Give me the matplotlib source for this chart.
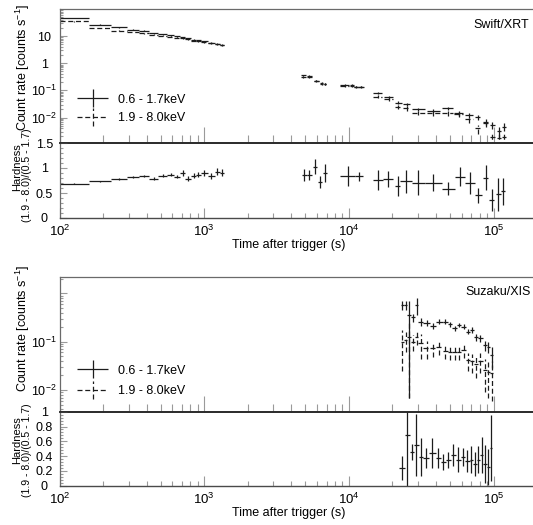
import numpy as np
import matplotlib
matplotlib.use('Agg')
import matplotlib.pyplot as plt
from matplotlib.ticker import FixedLocator, FixedFormatter, NullFormatter, LogLocator, MultipleLocator
from matplotlib.container import ErrorbarContainer
from matplotlib.legend_handler import HandlerErrorbar

plt.rcParams['font.family'] = ['Liberation Sans', 'DejaVu Sans']
plt.rcParams['mathtext.fontset'] = 'custom'
plt.rcParams['mathtext.rm'] = 'Liberation Sans'
plt.rcParams['mathtext.it'] = 'Liberation Sans:italic'
plt.rcParams['mathtext.bf'] = 'Liberation Sans:bold'

# ---------------- data ----------------
band_labels = ['0.6 - 1.7keV', '1.9 - 8.0keV']

# Swift/XRT early light curve (bin edges in s)
xrt1_edges = [100, 161, 228, 293, 355, 417, 483, 552, 622, 682, 742, 815, 878, 948, 1060, 1179, 1276, 1368]
xrt1_soft = [47, 26.7, 21, 17.4, 16, 13.1, 12.1, 10.7, 9.8, 9.0, 8.3, 7.4, 7.0, 6.4, 5.7, 5.3, 4.8]
xrt1_soft_err = [0.8, 0.5, 0.45, 0.4, 0.35, 0.3, 0.3, 0.28, 0.26, 0.25, 0.24, 0.22, 0.22, 0.2, 0.2, 0.19, 0.18]
xrt1_hard = [35, 20, 16, 14, 12.6, 11.4, 10.5, 9.6, 8.8, 8.2, 7.6, 6.9, 6.5, 6.0, 5.4, 5.0, 4.6]
xrt1_hard_err = [0.7, 0.45, 0.4, 0.35, 0.32, 0.3, 0.28, 0.26, 0.25, 0.24, 0.23, 0.21, 0.21, 0.2, 0.19, 0.18, 0.17]
xrt1_hr = [0.69, 0.74, 0.78, 0.83, 0.85, 0.79, 0.85, 0.87, 0.83, 0.91, 0.79, 0.85, 0.87, 0.91, 0.85, 0.93, 0.91]
xrt1_hr_err = [0.01, 0.01, 0.015, 0.02, 0.02, 0.025, 0.03, 0.03, 0.035, 0.06, 0.045, 0.05, 0.05, 0.06, 0.06, 0.07, 0.07]

# Swift/XRT late light curve
xrt2_lo = [4650, 5110, 5720, 6300, 6680, 8700, 10100, 10870, 11600, 14750, 17480, 20830, 23770, 27160,
           34500, 43790, 53250, 63450, 74370, 84080, 94430, 105050, 114300]
xrt2_hi = [5050, 5560, 6200, 6640, 6990, 10070, 10800, 11600, 12700, 16850, 20270, 23170, 26440, 33570,
           42620, 52660, 61750, 71720, 80540, 91920, 101760, 113060, 122400]
xrt2_soft = [0.354, 0.335, 0.231, 0.184, 0.174, 0.160, 0.160, 0.139, 0.139, 0.0785, 0.056, 0.0354, 0.0308,
             0.0201, 0.0179, 0.0219, 0.0143, 0.0124, 0.0102, 0.0070, 0.0053, 0.00324, 0.0046]
xrt2_soft_err = [0.02, 0.02, 0.015, 0.012, 0.012, 0.012, 0.012, 0.01, 0.01, 0.007, 0.006, 0.004, 0.004,
                 0.003, 0.0025, 0.003, 0.0025, 0.0025, 0.0022, 0.0018, 0.0016, 0.0013, 0.0015]
xrt2_hard = [0.307, 0.307, 0.219, 0.174, 0.174, 0.147, 0.147, 0.131, 0.131, 0.059, 0.047, 0.0238, 0.0219,
             0.0151, 0.0143, 0.0143, 0.0131, 0.0086, 0.0040, 0.0061, 0.00185, 0.0017, 0.00185]
xrt2_hard_err = [0.02, 0.02, 0.015, 0.012, 0.012, 0.012, 0.012, 0.01, 0.01, 0.007, 0.006, 0.004, 0.004,
                 0.003, 0.0025, 0.0025, 0.0025, 0.0022, 0.0015, 0.0018, 0.0010, 0.0009, 0.0010]
xrt2_hr_lo = [4718, 5109, 5675, 6144, 6655, 8680, 11020, 14750, 17290, 20830, 22550, 27160, 33570, 43790,
              54100, 63450, 74370, 84080, 93390, 103900, 113060]
xrt2_hr_hi = [5109, 5533, 5992, 6486, 7025, 11020, 12580, 17290, 20270, 22550, 27160, 33570, 43790, 54100,
              63450, 74370, 82760, 91920, 100650, 111900, 119900]
xrt2_hr = [0.86, 0.86, 1.03, 0.73, 0.91, 0.84, 0.84, 0.76, 0.79, 0.64, 0.74, 0.71, 0.71, 0.59, 0.83, 0.71,
           0.46, 0.81, 0.36, 0.48, 0.54]
xrt2_hr_err = [0.12, 0.1, 0.15, 0.12, 0.18, 0.2, 0.09, 0.2, 0.16, 0.2, 0.23, 0.25, 0.17, 0.13, 0.19, 0.22,
               0.15, 0.25, 0.22, 0.33, 0.27]

# Suzaku/XIS light curve
xis_edges = [22800, 24070, 25170, 26650, 28500, 30200, 32710, 36180, 40220, 44350, 48020, 51700, 55680,
             59810, 64260, 68720, 73450, 78450, 83820, 89540, 94440, 99670]
xis_soft = [0.575, 0.575, 0.357, 0.32, 0.575, 0.26, 0.247, 0.211, 0.26, 0.26, 0.229, 0.189, 0.222, 0.205,
            0.161, 0.175, 0.123, 0.117, 0.0855, 0.0788, 0.053]
xis_soft_err = [0.12, 0.12, 0.35, 0.06, 0.22, 0.05, 0.035, 0.03, 0.03, 0.03, 0.03, 0.025, 0.025, 0.025,
                0.02, 0.025, 0.02, 0.02, 0.02, 0.02, 0.025]
xis_hard = [0.1, 0.11, 0.127, 0.1, 0.127, 0.093, 0.073, 0.073, 0.079, 0.065, 0.062, 0.062, 0.062, 0.067,
            0.042, 0.039, 0.034, 0.04, 0.026, 0.024, 0.023]
xis_hard_err = [0.075, 0.05, 0.12, 0.035, 0.04, 0.05, 0.03, 0.025, 0.025, 0.022, 0.02, 0.02, 0.02, 0.022,
                0.017, 0.016, 0.016, 0.017, 0.017, 0.017, 0.017]
xis_hr_edges = [22200, 24500, 26240, 28180, 30370, 32700, 35980, 39680, 43170, 46750, 50610, 54800, 59060,
                63450, 68160, 72470, 76360, 80550, 84960, 89540, 93910, 98000]
xis_hr = [0.235, 0.69, 0.46, 0.55, 0.39, 0.38, 0.44, 0.38, 0.32, 0.35, 0.41, 0.35, 0.39, 0.33, 0.35, 0.29,
          0.35, 0.415, 0.29, 0.25, 0.51]
xis_hr_err = [0.16, 1.0, 0.11, 0.42, 0.26, 0.135, 0.2, 0.135, 0.11, 0.11, 0.15, 0.17, 0.12, 0.15, 0.18,
              0.16, 0.18, 0.24, 0.26, 0.24, 0.45]

# ---------------- figure ----------------
W, H = 533, 525
fig = plt.figure(figsize=(W / 100, H / 100), dpi=100)
INK = '#1c1c1c'
LW = 0.9
DASH = (0, (4.0, 2.2))
FS = 9


def ax_px(left, top, right, bottom):
    return fig.add_axes([left / W, 1 - bottom / H, (right - left) / W, (bottom - top) / H])


def draw(ax, lo, hi, y, yerr, dashed=False):
    lo = np.asarray(lo, float)
    hi = np.asarray(hi, float)
    t = np.sqrt(lo * hi)
    eb = ax.errorbar(t, y, xerr=[t - lo, hi - t], yerr=yerr, fmt='none',
                     ecolor=INK, elinewidth=LW, capsize=0)
    if dashed:
        for c in eb[2]:
            c.set_linestyle(DASH)
    return eb


def style(ax, upper):
    ax.set_xscale('log')
    ax.set_xlim(100, 2e5)
    ax.spines['right'].set_visible(False)
    ax.spines['left'].set_color('#6a6a6a')
    ax.spines['left'].set_linewidth(0.9)
    ax.spines['top'].set_color('#6a6a6a' if upper else '#2a2a2a')
    ax.spines['top'].set_linewidth(0.9 if upper else 1.2)
    ax.spines['bottom'].set_color('#2a2a2a' if upper else '#4a4a4a')
    ax.spines['bottom'].set_linewidth(1.2 if upper else 1.0)
    ax.xaxis.set_major_locator(LogLocator(base=10, numticks=10))
    ax.xaxis.set_minor_locator(LogLocator(base=10, subs=np.arange(2, 10), numticks=20))
    ax.xaxis.set_minor_formatter(NullFormatter())
    if upper:
        ax.tick_params(axis='x', which='major', direction='in', length=11.5, width=0.8,
                       color='#9a9a9a', top=False, bottom=True, labelbottom=False)
        ax.tick_params(axis='x', which='minor', direction='in', length=5.8, width=0.8,
                       color='#9a9a9a', top=False, bottom=True)
    else:
        ax.tick_params(axis='x', which='major', direction='in', length=7.2, width=0.8,
                       color='#9a9a9a', top=False, bottom=True, labelsize=9.5, pad=4.5)
        ax.tick_params(axis='x', which='minor', direction='in', length=3.6, width=0.8,
                       color='#9a9a9a', top=False, bottom=True)
        ax.set_xticks([1e2, 1e3, 1e4, 1e5])
        ax.set_xticklabels(['$10^{2}$', '$10^{3}$', '$10^{4}$', '$10^{5}$'])
    ax.tick_params(axis='y', which='major', direction='in', length=5, width=0.8, color='#9a9a9a',
                   right=False, labelsize=FS, pad=11.0)
    ax.tick_params(axis='y', which='minor', direction='in', length=2.5, width=0.8, color='#9a9a9a',
                   right=False)
    ax.patch.set_alpha(0)


def center_ylabels(ax):
    for lab in ax.get_yticklabels():
        lab.set_horizontalalignment('center')


handler = {ErrorbarContainer: HandlerErrorbar(xerr_size=1.24, yerr_size=0.72)}

# ===== Swift/XRT =====
ax1 = ax_px(59.5, 9, 537.2, 143)
ax1.set_yscale('log')
ax1.set_ylim(1.15e-3, 100)
style(ax1, True)
ax1.yaxis.set_major_locator(FixedLocator([1e-2, 1e-1, 1, 10]))
ax1.yaxis.set_major_formatter(FixedFormatter(['$10^{-2}$', '$10^{-1}$', '1', '10']))
ax1.yaxis.set_minor_locator(LogLocator(base=10, subs=np.arange(2, 10), numticks=20))
ax1.yaxis.set_minor_formatter(NullFormatter())
e1 = np.asarray(xrt1_edges, float)
hs = draw(ax1, e1[:-1], e1[1:], xrt1_soft, xrt1_soft_err)
hh = draw(ax1, e1[:-1], e1[1:], xrt1_hard, xrt1_hard_err, dashed=True)
draw(ax1, xrt2_lo, xrt2_hi, xrt2_soft, xrt2_soft_err)
draw(ax1, xrt2_lo, xrt2_hi, xrt2_hard, xrt2_hard_err, dashed=True)
ax1.legend([hs, hh], band_labels, handler_map=handler, loc='center left',
           bbox_to_anchor=(77 / W, 1 - 109 / H), bbox_transform=fig.transFigure,
           frameon=False, fontsize=FS, borderpad=0, borderaxespad=0, handlelength=2.5,
           handletextpad=0.8, labelspacing=0.55)
center_ylabels(ax1)

ax2 = ax_px(59.5, 143, 537.2, 218)
ax2.set_ylim(0, 1.5)
style(ax2, False)
ax2.yaxis.set_major_locator(FixedLocator([0, 0.5, 1, 1.5]))
ax2.yaxis.set_major_formatter(FixedFormatter(['0', '0.5', '1', '1.5']))
ax2.yaxis.set_minor_locator(MultipleLocator(0.1))
draw(ax2, e1[:-1], e1[1:], xrt1_hr, xrt1_hr_err)
draw(ax2, xrt2_hr_lo, xrt2_hr_hi, xrt2_hr, xrt2_hr_err)
center_ylabels(ax2)

# ===== Suzaku/XIS =====
ax3 = ax_px(59.5, 277.3, 537.2, 411.7)
ax3.set_yscale('log')
ax3.set_ylim(3.56e-3, 2.15)
style(ax3, True)
ax3.yaxis.set_major_locator(FixedLocator([1e-2, 1e-1, 1]))
ax3.yaxis.set_major_formatter(FixedFormatter(['$10^{-2}$', '$10^{-1}$', '']))
ax3.yaxis.set_minor_locator(LogLocator(base=10, subs=np.arange(2, 10), numticks=20))
ax3.yaxis.set_minor_formatter(NullFormatter())
ex = np.asarray(xis_edges, float)
gs = draw(ax3, ex[:-1], ex[1:], xis_soft, xis_soft_err)
gh = draw(ax3, ex[:-1], ex[1:], xis_hard, xis_hard_err, dashed=True)
ax3.legend([gs, gh], band_labels, handler_map=handler, loc='center left',
           bbox_to_anchor=(77 / W, 1 - 381 / H), bbox_transform=fig.transFigure,
           frameon=False, fontsize=FS, borderpad=0, borderaxespad=0, handlelength=2.5,
           handletextpad=0.8, labelspacing=0.7)
center_ylabels(ax3)

ax4 = ax_px(59.5, 411.7, 537.2, 485.7)
ax4.set_ylim(0, 1)
style(ax4, False)
ax4.yaxis.set_major_locator(FixedLocator([0, 0.2, 0.4, 0.6, 0.8, 1.0]))
ax4.yaxis.set_major_formatter(FixedFormatter(['0', '0.2', '0.4', '0.6', '0.8', '1']))
ax4.yaxis.set_minor_locator(MultipleLocator(0.04))
eh = np.asarray(xis_hr_edges, float)
draw(ax4, eh[:-1], eh[1:], xis_hr, xis_hr_err)
center_ylabels(ax4)

# ----- texts -----
def ftext(x, y, s, **kw):
    fig.text(x / W, 1 - y / H, s, **kw)

ftext(529, 25, 'Swift/XRT', ha='right', va='center', fontsize=FS)
ftext(531, 292, 'Suzaku/XIS', ha='right', va='center', fontsize=FS)
for cy, hy1, hy2, xl in [(68, 167.5, 175.5, 245), (329, 440, 450, 513)]:
    ftext(22.5, cy, 'Count rate [counts s$^{-1}$]', rotation=90, ha='center', va='center',
          fontsize=9)
    ftext(16.7, hy1, 'Hardness', rotation=90, ha='center', va='center', fontsize=8)
    ftext(27, hy2, '(1.9 - 8.0)/(0.5 - 1.7)', rotation=90, ha='center', va='center', fontsize=7.6)
    ftext(289, xl, 'Time after trigger (s)', ha='center', va='center', fontsize=FS)

fig.savefig('out.png', dpi=100)
